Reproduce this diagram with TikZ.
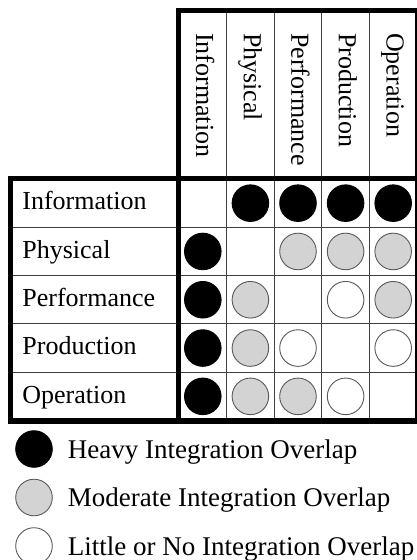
\documentclass[tikz,border=0pt]{standalone}
\usepackage{fontspec}
\setmainfont{Liberation Serif}
\usetikzlibrary{matrix,positioning}
\def\r{18.3pt}
\definecolor{moderategray}{RGB}{211,211,211}
\tikzset{
	table/.style={
		matrix of nodes,
		anchor=north west,
		inner sep=0pt,
		line width=0.9pt,
		row sep=-\pgflinewidth,
		column sep=-\pgflinewidth,
		nodes={
			rectangle,
			draw=black!75,
			line width=0.9pt,
			inner sep=0pt,
			minimum width=47.6pt,
			minimum height=48.3pt,
			text height=17.2pt,
			text depth=3.9pt,
			font=\fontsize{26pt}{30pt}\selectfont,
		},
		nodes in empty cells,
		%%
		row 1/.style={nodes={minimum height=168pt}},
		column 1/.style={
			nodes={
				minimum width=168.2pt,
				text width=145pt,
				inner xsep=11.6pt,
				align=left,
			}
		},
		row 1 column 1/.style={nodes={draw=none}},
	},
	header/.style={
		rotate=-90,
		anchor=west,
		inner sep=0pt,
		text height=17.2pt,
		text depth=3.9pt,
		font=\fontsize{26pt}{30pt}\selectfont,
	},
	border/.style={line width=5.5pt, draw=black},
	heavy/.style={fill=black, draw=black, line width=0.9pt},
	moderate/.style={fill=moderategray, draw=black!65, line width=0.9pt},
	little/.style={fill=white, draw=black!65, line width=0.9pt},
	key/.style={circle, minimum size=36.6pt, inner sep=0pt},
	keytext/.style={
		inner sep=0pt,
		text height=18pt,
		text depth=0pt,
		font=\fontsize{27pt}{31pt}\selectfont,
	},
}
\begin{document}
\begin{tikzpicture}[x=1pt,y=-1pt]
\useasboundingbox (0,0) rectangle (417,560);
    \matrix[table, ampersand replacement=\&] (grid) at (9.9,10.1)
    {
         \& \& \& \& \& \\
        Information \& \& \& \& \& \\
        Physical \& \& \& \& \& \\
        Performance \& \& \& \& \& \\
        Production \& \& \& \& \& \\
        Operation \& \& \& \& \& \\
};

% column headings
\node[header] (head-info) at ([yshift=-22.3pt]grid-1-2.north) {Information};
\node[header] (head-phys) at ([yshift=-22.3pt]grid-1-3.north) {Physical};
\node[header] (head-perf) at ([yshift=-22.3pt]grid-1-4.north) {Performance};
\node[header] (head-prod) at ([yshift=-22.3pt]grid-1-5.north) {Production};
\node[header] (head-oper) at ([yshift=-22.3pt]grid-1-6.north) {Operation};

\draw[border] (grid-6-2.south west) |- (grid-1-6.north east) -- (grid-6-6.south east)
    -| (grid-2-1.north west) -- (grid-2-6.north east);

\filldraw[heavy] (grid-2-3) circle (\r);
\filldraw[heavy] (grid-2-4) circle (\r);
\filldraw[heavy] (grid-2-5) circle (\r);
\filldraw[heavy] (grid-2-6) circle (\r);
\filldraw[heavy] (grid-3-2) circle (\r);
\filldraw[heavy] (grid-4-2) circle (\r);
\filldraw[heavy] (grid-5-2) circle (\r);
\filldraw[heavy] (grid-6-2) circle (\r);
\filldraw[moderate] (grid-3-4) circle (\r);
\filldraw[moderate] (grid-3-5) circle (\r);
\filldraw[moderate] (grid-3-6) circle (\r);
\filldraw[moderate] (grid-4-3) circle (\r);
\filldraw[moderate] (grid-4-6) circle (\r);
\filldraw[moderate] (grid-5-3) circle (\r);
\filldraw[moderate] (grid-6-3) circle (\r);
\filldraw[moderate] (grid-6-4) circle (\r);
\filldraw[little] (grid-4-5) circle (\r);
\filldraw[little] (grid-5-4) circle (\r);
\filldraw[little] (grid-5-6) circle (\r);
\filldraw[little] (grid-6-5) circle (\r);

% legend
\node[key, heavy] (key-heavy) at (34,449) {};
\node[key, moderate] (key-moderate) at (34,497.5) {};
\node[key, little] (key-little) at (34,546) {};
\node[keytext, right=15pt of key-heavy] (text-heavy) {Heavy Integration Overlap};
\node[keytext, right=15pt of key-moderate] (text-moderate) {Moderate Integration Overlap};
\node[keytext, right=15pt of key-little] (text-little) {Little or No Integration Overlap};
\end{tikzpicture}
\end{document}
